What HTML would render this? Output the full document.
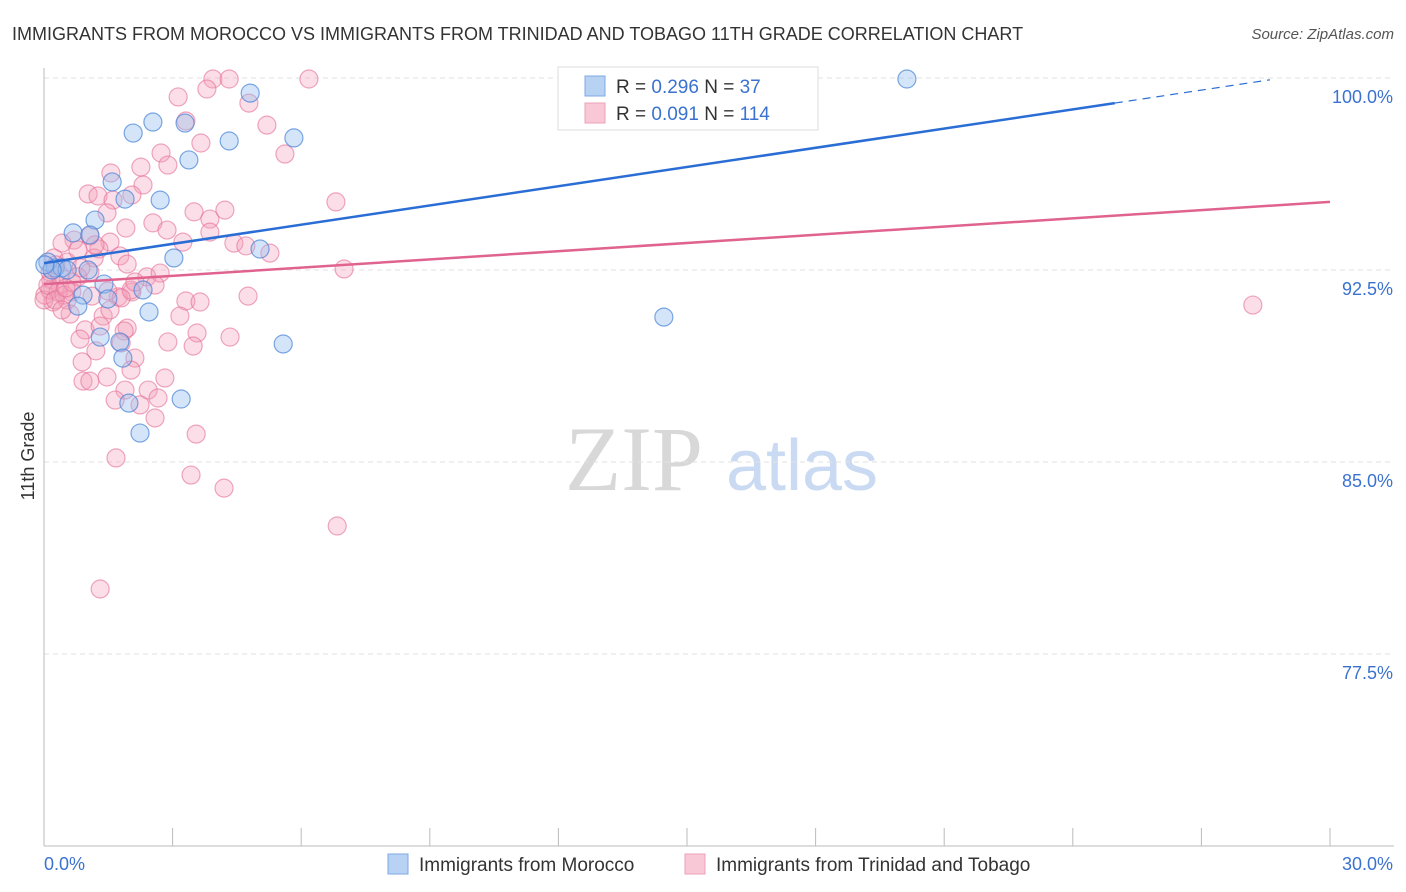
<!DOCTYPE html>
<html><head><meta charset="utf-8"><style>
body{margin:0;background:#fff;font-family:"Liberation Sans",sans-serif}
svg{display:block}
</style></head><body>
<svg id="chart" width="1406" height="892" viewBox="0 0 1406 892" xmlns="http://www.w3.org/2000/svg" font-family="Liberation Sans, sans-serif">
<text x="12" y="40" font-size="18" fill="#333">IMMIGRANTS FROM MOROCCO VS IMMIGRANTS FROM TRINIDAD AND TOBAGO 11TH GRADE CORRELATION CHART</text>
<text x="1394" y="39" font-size="15" fill="#555" text-anchor="end" font-style="italic">Source: ZipAtlas.com</text>
<g>
<text x="634" y="490" font-size="92" fill="#d8d8d8" text-anchor="middle" font-family="Liberation Serif, serif">ZIP</text>
<text x="802" y="490" font-size="72" fill="#c9daf2" text-anchor="middle">atlas</text>
</g>
<g id="grid"></g><g id="axes"></g><g id="marks"></g><g id="lines"></g>
<text transform="translate(34,456) rotate(-90)" font-size="18" fill="#333" text-anchor="middle">11th Grade</text>
<g>
<rect x="558" y="67" width="260" height="63" fill="#fff" stroke="#ddd"/>
<rect x="585" y="76" width="20" height="20" fill="#b8d2f4" stroke="#7ea8e4"/>
<text x="616" y="93" font-size="19" fill="#333">R = <tspan fill="#3b72d0">0.296</tspan>   N = <tspan fill="#3b72d0"> 37</tspan></text>
<rect x="585" y="103" width="20" height="20" fill="#f9c8d6" stroke="#eea0b8"/>
<text x="616" y="120" font-size="19" fill="#333">R = <tspan fill="#3b72d0">0.091</tspan>   N = <tspan fill="#3b72d0">114</tspan></text>
</g>
<g>
<rect x="388" y="854" width="20" height="20" fill="#b8d2f4" stroke="#7ea8e4"/>
<text x="419" y="871" font-size="19" fill="#333">Immigrants from Morocco</text>
<rect x="685" y="854" width="20" height="20" fill="#f9c8d6" stroke="#eea0b8"/>
<text x="716" y="871" font-size="19" fill="#333">Immigrants from Trinidad and Tobago</text>
</g>
</svg>
<script>
const xTicks=[0,3,6,9,12,15,18,21,24,27,30];
const yTicks=[100,92.5,85,77.5];
const yTickLabels=["100.0%","92.5%","85.0%","77.5%"];
const blueX=[20.13,4.81,2.54,2.08,3.29,4.32,5.83,3.38,1.59,1.89,2.71,1.19,0.68,1.07,3.03,5.04,0.09,0.26,0.42,1.03,0.54,1.40,0.91,2.31,1.49,0.79,2.45,1.31,1.77,1.84,5.58,14.46,3.20,1.98,2.24,0.19,0.02];
const blueY=[99.96,99.41,98.28,97.85,98.24,97.54,97.66,96.80,95.94,95.27,95.23,94.45,93.95,93.87,92.97,93.32,92.81,92.58,92.58,92.5,92.5,91.95,91.52,91.72,91.37,91.09,90.86,89.88,89.69,89.06,89.61,90.66,87.46,87.30,86.13,92.5,92.7];
const pinkX=[3.94,4.32,6.18,3.80,3.13,4.78,3.31,5.20,3.66,5.62,2.73,1.56,2.26,2.89,2.31,1.03,1.26,1.61,2.05,6.81,3.50,1.47,4.22,2.54,2.87,3.87,1.91,3.87,1.07,3.24,0.70,0.42,1.54,4.43,4.71,5.27,1.28,1.77,1.17,1.94,0.23,0.54,2.40,2.71,1.07,0.16,0.37,0.79,2.05,7.00,0.65,1.73,4.76,3.31,3.64,0.54,0.21,1.12,1.38,3.17,0.61,0.96,1.94,1.31,1.87,3.57,4.34,0.84,2.89,3.48,1.80,1.21,2.12,0.89,1.47,2.03,2.82,0.91,1.07,1.89,2.43,2.66,1.66,2.59,3.55,1.68,3.43,4.20,6.84,1.31,28.20,0.02,0.14,0.33,0.47,0.00,0.14,0.37,0.09,0.26,0.65,0.51,0.86,1.49,2.03,1.80,0.79,1.19,2.12,2.59,0.42,0.28,1.54,2.24];
const pinkY=[99.96,99.96,99.96,99.57,99.26,99.02,98.32,98.16,97.46,97.03,97.07,96.29,96.52,96.60,95.82,95.47,95.39,95.23,95.43,95.16,94.77,94.73,94.84,94.34,94.06,94.49,94.14,93.98,93.83,93.59,93.67,93.55,93.59,93.55,93.44,93.16,93.32,93.05,92.97,92.73,92.97,92.81,92.23,92.38,92.42,92.11,91.91,92.23,91.64,92.54,91.64,91.45,91.48,91.29,91.25,91.33,91.25,91.48,90.70,90.70,90.78,90.16,90.23,90.31,90.12,90.04,89.88,89.80,89.69,89.53,89.65,89.34,89.06,88.91,88.32,88.59,88.28,88.16,88.16,87.81,87.81,87.50,87.42,86.72,86.09,85.16,84.49,83.98,82.50,80.04,91.13,91.52,91.72,91.64,91.52,91.33,92.42,92.30,91.91,91.33,92.03,91.80,92.58,91.68,91.72,91.41,93.28,93.48,92.03,91.91,90.94,92.70,90.94,87.23];
const blueTrend=[[0,92.77],[24.98,99.02],[28.6,99.93]];
const pinkTrend=[[0,91.95],[30,95.16]];
const NS="http://www.w3.org/2000/svg";
const X=v=>44+v/30*1286;
const Y=v=>78+(100-v)/7.5*192;
function mk(tag,attrs,parent){const e=document.createElementNS(NS,tag);for(const k in attrs)e.setAttribute(k,attrs[k]);document.getElementById(parent).appendChild(e);return e;}
yTicks.forEach((t,i)=>{
 const g=mk('line',{x1:44,x2:1394,y1:Y(t),y2:Y(t),stroke:'#e2e2e2','stroke-dasharray':'5,4'},'grid');
 
 
 const l=mk('text',{x:1393,y:Y(t)+25,'font-size':18,fill:'#3b72d0','text-anchor':'end'},'axes');
 l.textContent=yTickLabels[i];
 
 
});
const ax=mk('line',{x1:44,x2:44,y1:68,y2:846,stroke:'#bbb'},'axes');


const bx=mk('line',{x1:44,x2:1394,y1:846,y2:846,stroke:'#bbb'},'axes');


xTicks.forEach(t=>{
 const k=mk('line',{x1:X(t),x2:X(t),y1:828,y2:846,stroke:'#bbb'},'axes');
 
 
});
const xl0=mk('text',{x:44,y:870,'font-size':18,fill:'#3b72d0'},'axes');xl0.textContent='0.0%';


const xl1=mk('text',{x:1393,y:870,'font-size':18,fill:'#3b72d0','text-anchor':'end'},'axes');xl1.textContent='30.0%';


pinkX.forEach((v,i)=>{
 const c=mk('circle',{cx:X(v),cy:Y(pinkY[i]),r:9,fill:'rgba(244,160,186,0.35)',stroke:'rgba(228,110,150,0.6)','stroke-width':1.2},'marks');
 
 
});
blueX.forEach((v,i)=>{
 const c=mk('circle',{cx:X(v),cy:Y(blueY[i]),r:9,fill:'rgba(150,190,240,0.4)',stroke:'rgba(70,130,215,0.7)','stroke-width':1.2},'marks');
 
 
});
const b1=mk('line',{x1:X(blueTrend[0][0]),y1:Y(blueTrend[0][1]),x2:X(blueTrend[1][0]),y2:Y(blueTrend[1][1]),stroke:'#2a6dd4','stroke-width':2.5},'lines');


const b2=mk('line',{x1:X(blueTrend[1][0]),y1:Y(blueTrend[1][1]),x2:X(blueTrend[2][0]),y2:Y(blueTrend[2][1]),stroke:'#2a6dd4','stroke-width':1.2,'stroke-dasharray':'8,6'},'lines');


const p1=mk('line',{x1:X(pinkTrend[0][0]),y1:Y(pinkTrend[0][1]),x2:X(pinkTrend[1][0]),y2:Y(pinkTrend[1][1]),stroke:'#e0638f','stroke-width':2.5},'lines');


</script>
</body></html>
